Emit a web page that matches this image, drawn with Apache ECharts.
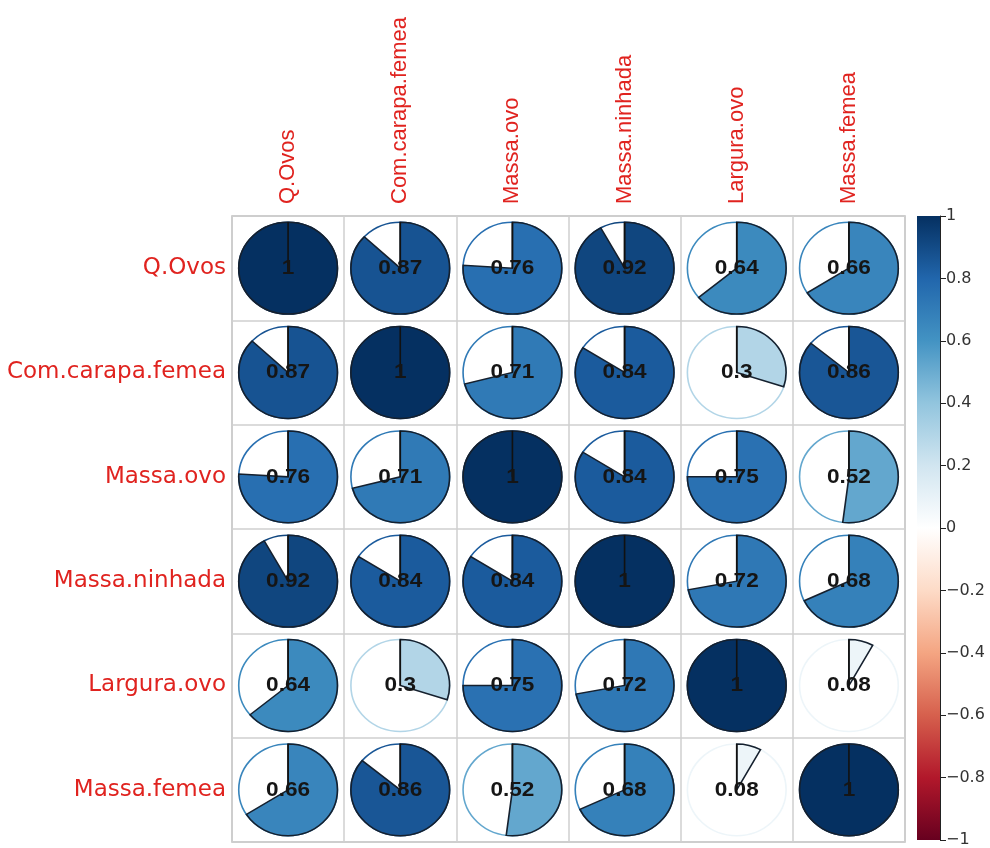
<!DOCTYPE html>
<html>
<head>
<meta charset="utf-8">
<script src="https://cdn.jsdelivr.net/npm/echarts@6/dist/echarts.min.js"></script>
<style>
  html, body { margin: 0; padding: 0; background: #fff; }
  #main { width: 990px; height: 848px; }
</style>
</head>
<body>
<div id="main"></div>
<script>
// variaveis (linhas e colunas da matriz)
var variables = ['Q.Ovos', 'Com.carapa.femea', 'Massa.ovo', 'Massa.ninhada', 'Largura.ovo', 'Massa.femea'];

// correlacoes, uma linha por variavel
var rowQOvos        = [1, 0.87, 0.76, 0.92, 0.64, 0.66];
var rowComCarapa    = [0.87, 1, 0.71, 0.84, 0.3, 0.86];
var rowMassaOvo     = [0.76, 0.71, 1, 0.84, 0.75, 0.52];
var rowMassaNinhada = [0.92, 0.84, 0.84, 1, 0.72, 0.68];
var rowLarguraOvo   = [0.64, 0.3, 0.75, 0.72, 1, 0.08];
var rowMassaFemea   = [0.66, 0.86, 0.52, 0.68, 0.08, 1];

// paleta RdBu (de -1 a 1)
var palette = ['#67001F', '#B2182B', '#D6604D', '#F4A582', '#FDDBC7', '#FFFFFF',
               '#D1E5F0', '#92C5DE', '#4393C3', '#2166AC', '#053061'];
var scaleRange = [-1, 1];

var corrRows = [rowQOvos, rowComCarapa, rowMassaOvo, rowMassaNinhada, rowLarguraOvo, rowMassaFemea];
var cells = [];
corrRows.forEach(function (row, i) {
  row.forEach(function (v, j) { cells.push([j, i, v]); });
});

var chart = echarts.init(document.getElementById('main'));

function renderPie(params, api) {
  var c = api.coord([api.value(0), api.value(1)]);
  var s = api.size([1, 1]);
  var r = s[1] * 0.44;
  var v = api.value(2);
  var col = api.visual('color');
  var a0 = -Math.PI / 2;
  return {
    type: 'group', x: c[0], y: c[1], scaleX: s[0] / s[1],
    children: [
      { type: 'circle', shape: { cx: 0, cy: 0, r: r }, style: { fill: '#fff', stroke: col, lineWidth: 1.5 } },
      { type: 'sector', shape: { cx: 0, cy: 0, r0: 0, r: r, startAngle: a0, endAngle: a0 + v * 2 * Math.PI, clockwise: true },
        style: { fill: col, stroke: '#15202e', lineWidth: 1.5 } },
      { type: 'line', shape: { x1: 0, y1: 0, x2: 0, y2: -r }, style: { stroke: '#111', lineWidth: 1.5 } },
      { type: 'text', style: { text: String(v), x: 0, y: 0, align: 'center', verticalAlign: 'middle',
        fontSize: 21, fontWeight: 'bold', fontFamily: 'Liberation Sans', fill: '#151515' } }
    ]
  };
}

function renderBar(params, api) {
  var top = api.coord([api.value(0), scaleRange[1]]);
  var bottom = api.coord([api.value(0), scaleRange[0]]);
  var w = api.size([1, 0])[0];
  var stops = palette.slice().reverse().map(function (c, k) {
    return { offset: k / (palette.length - 1), color: c };
  });
  return {
    type: 'rect',
    shape: { x: top[0] - w / 2, y: top[1], width: w, height: bottom[1] - top[1] },
    style: { fill: new echarts.graphic.LinearGradient(0, 0, 0, 1, stops) }
  };
}

var option = {
  backgroundColor: '#fff',
  animation: false,
  grid: [
    { left: 232, right: 85, top: 216, bottom: 6, show: true, backgroundColor: '#fff', borderColor: '#bcbcbc', borderWidth: 1.5 },
    { left: 917, width: 23, top: 216, bottom: 5 }
  ],
  visualMap: {
    type: 'continuous', show: false, min: scaleRange[0], max: scaleRange[1],
    seriesIndex: 0, dimension: 2, inRange: { color: palette }
  },
  xAxis: [
    {
      type: 'category', gridIndex: 0, position: 'top', data: variables,
      axisLine: { show: false }, axisTick: { show: false },
      axisLabel: { interval: 0, rotate: -90, margin: 12, color: '#e0231f', fontSize: 22, fontFamily: 'Liberation Sans' },
      splitLine: { show: true, interval: 0, lineStyle: { color: '#cfcfcf', width: 1.5 } }
    },
    { type: 'category', gridIndex: 1, data: ['bar'], show: false }
  ],
  yAxis: [
    {
      type: 'category', gridIndex: 0, inverse: true, data: variables,
      axisLine: { show: false }, axisTick: { show: false },
      axisLabel: { interval: 0, margin: 6, color: '#e0231f', fontSize: 23, fontFamily: 'DejaVu Sans' },
      splitLine: { show: true, interval: 0, lineStyle: { color: '#cfcfcf', width: 1.5 } }
    },
    {
      type: 'value', gridIndex: 1, position: 'right', min: -1, max: 1, interval: 0.2,
      axisLine: { show: true, lineStyle: { color: '#222', width: 1 } },
      axisTick: { show: true, length: 6, lineStyle: { color: '#222' } },
      splitLine: { show: false },
      axisLabel: {
        margin: 6, color: '#333', fontSize: 16, fontFamily: 'DejaVu Sans',
        formatter: function (v) { return String(Math.round(v * 10) / 10).replace('-', '\u2212'); }
      }
    }
  ],
  series: [
    { type: 'custom', xAxisIndex: 0, yAxisIndex: 0, data: cells, renderItem: renderPie, clip: false },
    { type: 'custom', xAxisIndex: 1, yAxisIndex: 1, data: [[0]], renderItem: renderBar, silent: true, z: 1 }
  ]
};

chart.setOption(option);
</script>
</body>
</html>
